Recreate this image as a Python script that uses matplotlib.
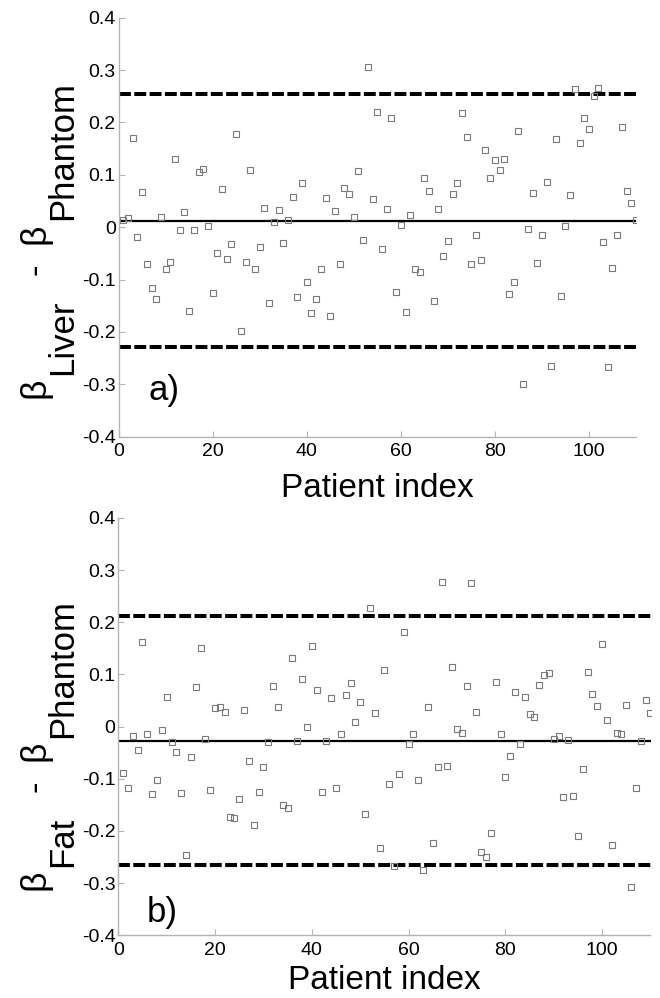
import matplotlib
matplotlib.use('Agg')
import matplotlib.pyplot as plt

# ---------------- data ----------------
patient_index = list(range(1, 111))

liver_diff = [0.014, 0.017, 0.170, -0.019, 0.067, -0.070, -0.116, -0.137, 0.019, -0.079,
              -0.067, 0.131, -0.006, 0.029, -0.159, -0.006, 0.105, 0.112, 0.002, -0.126,
              -0.049, 0.072, -0.061, -0.033, 0.178, -0.198, -0.067, 0.109, -0.079, -0.038,
              0.037, -0.144, 0.009, 0.033, -0.031, 0.014, 0.058, -0.133, 0.085, -0.104,
              -0.163, -0.137, -0.080, 0.056, -0.169, 0.030, -0.071, 0.074, 0.064, 0.019,
              0.107, -0.025, 0.305, 0.053, 0.219, -0.042, 0.034, 0.208, -0.124, 0.005,
              -0.162, 0.024, -0.080, -0.086, 0.093, 0.070, -0.140, 0.034, -0.055, -0.027,
              0.064, 0.084, 0.218, 0.173, -0.071, -0.015, -0.063, 0.147, 0.093, 0.128,
              0.109, 0.131, -0.127, -0.104, 0.184, -0.299, -0.004, 0.066, -0.069, -0.015,
              0.087, -0.264, 0.169, -0.131, 0.002, 0.061, 0.263, 0.160, 0.209, 0.187,
              0.250, 0.265, -0.029, -0.267, -0.077, -0.015, 0.192, 0.069, 0.046, 0.013]

fat_diff = [-0.088, -0.118, -0.018, -0.045, 0.162, -0.015, -0.130, -0.103, -0.007, 0.056,
            -0.030, -0.048, -0.128, -0.246, -0.059, 0.076, 0.150, -0.024, -0.121, 0.035,
            0.038, 0.028, -0.173, -0.176, -0.139, 0.032, -0.065, -0.189, -0.125, -0.077,
            -0.030, 0.077, 0.037, -0.151, -0.155, 0.131, -0.027, 0.092, -0.001, 0.154,
            0.071, -0.125, -0.027, 0.054, -0.118, -0.015, 0.061, 0.083, 0.009, 0.048,
            -0.167, 0.227, 0.026, -0.233, 0.109, -0.109, -0.268, -0.091, 0.182, -0.034,
            -0.014, -0.103, -0.275, 0.037, -0.223, -0.077, 0.278, -0.075, 0.114, -0.005,
            -0.013, 0.077, 0.276, 0.029, -0.241, -0.250, -0.204, 0.085, -0.014, -0.096,
            -0.056, 0.067, -0.034, 0.056, 0.024, 0.019, 0.080, 0.099, 0.102, -0.024,
            -0.017, -0.134, -0.026, -0.132, -0.209, -0.081, 0.105, 0.063, 0.039, 0.158,
            0.012, -0.227, -0.012, -0.014, 0.041, -0.308, -0.117, -0.027, 0.051, 0.027]

liver_mean, liver_upper, liver_lower = 0.0125, 0.255, -0.229
fat_mean, fat_upper, fat_lower = -0.028, 0.212, -0.265

y_ticks = [0.4, 0.3, 0.2, 0.1, 0.0, -0.1, -0.2, -0.3, -0.4]
y_tick_labels = ['0.4', '0.3', '0.2', '0.1', '0', '-0.1', '-0.2', '-0.3', '-0.4']
x_ticks = [0, 20, 40, 60, 80, 100]
x_tick_labels = ['0', '20', '40', '60', '80', '100']
x_label = 'Patient index'
panel_tags = ['a)', 'b)']
y_label_subscripts = ['Liver', 'Fat']

# ---------------- style ----------------
plt.rcParams['font.family'] = ['Liberation Sans', 'DejaVu Sans']
plt.rcParams['axes.unicode_minus'] = False

W, H = 660, 998
fig = plt.figure(figsize=(W / 100, H / 100), dpi=100)


def px_axes(l, t, r, b):
    return fig.add_axes([l / W, 1 - b / H, (r - l) / W, (b - t) / H])


ax1 = px_axes(118.6, 17.6, 636.0, 436.8)
ax2 = px_axes(118.3, 518.0, 650.5, 935.3)

spine_col = '#b4b4b4'
panels = [
    (ax1, liver_diff, liver_mean, liver_upper, liver_lower, panel_tags[0], (6.3, -0.33)),
    (ax2, fat_diff, fat_mean, fat_upper, fat_lower, panel_tags[1], (5.9, -0.375)),
]
for ax, vals, mean, up, lo, tag, tagpos in panels:
    ax.axhline(up, color='black', lw=2.9, dashes=(2.95, 0.85), zorder=2)
    ax.axhline(lo, color='black', lw=2.9, dashes=(2.95, 0.85), zorder=2)
    ax.axhline(mean, color='black', lw=1.6, zorder=2)
    ax.plot(patient_index, vals, ls='none', marker='s', ms=4.3, mfc='none',
            mec='#7a7a7a', mew=0.8, zorder=3)
    ax.set_xlim(0, 110)
    ax.set_ylim(-0.4, 0.4)
    ax.set_yticks(y_ticks)
    ax.set_yticklabels(y_tick_labels)
    ax.set_xticks(x_ticks)
    ax.set_xticklabels(x_tick_labels)
    for s in ('top', 'right'):
        ax.spines[s].set_visible(False)
    for s in ('left', 'bottom'):
        ax.spines[s].set_color(spine_col)
        ax.spines[s].set_linewidth(1.0)
    ax.tick_params(direction='in', length=4, width=0.8, color=spine_col,
                   labelsize=14, labelcolor='black')
    ax.tick_params(axis='y', pad=2)
    ax.tick_params(axis='x', pad=4.5)
    ax.text(tagpos[0], tagpos[1], tag, fontsize=25, ha='left', va='baseline')

# x labels
fig.text((118.6 + 636.0) / 2 / W, 1 - 497 / H, x_label, fontsize=24,
         ha='center', va='baseline')
fig.text((118.3 + 650.5) / 2 / W, 1 - 989 / H, x_label, fontsize=24,
         ha='center', va='baseline')

# y labels built from rotated pieces (beta with large subscripts)
fig.canvas.draw()
renderer = fig.canvas.get_renderer()


def stacked_label(x_base_px, y_start_px, parts):
    y = H - y_start_px  # display coords (origin bottom)
    for text, size, shift, gap in parts:
        y += gap
        t = fig.text((x_base_px + shift) / W, y / H, text, fontsize=size,
                     rotation=90, rotation_mode='anchor', ha='left', va='baseline')
        ext = t.get_window_extent(renderer)
        y += ext.height


for sub, start in zip(y_label_subscripts, [398, 890]):
    stacked_label(45, start, [('β', 25.5, 0, 0), (sub, 25, 27, 3), ('-', 25, 0, 24),
                              ('β', 25.5, 0, 20), ('Phantom', 25, 27, 3)])

fig.savefig('out.png', dpi=100)
